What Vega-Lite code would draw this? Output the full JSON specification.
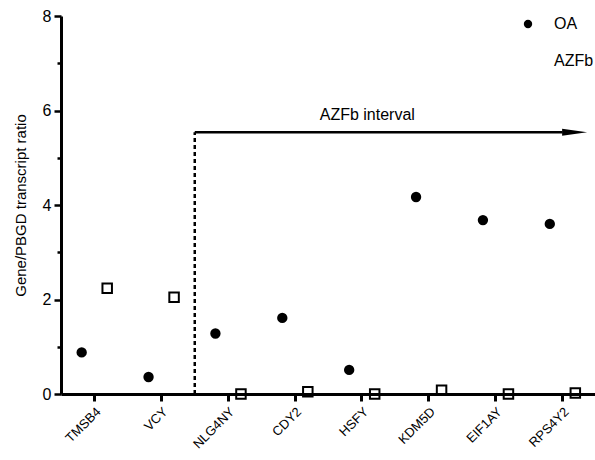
{
  "$schema": "https://vega.github.io/schema/vega-lite/v6.json",
  "width": 535,
  "height": 378,
  "autosize": "none",
  "padding": {"left": 61, "top": 16, "right": 0, "bottom": 66},
  "background": "white",
  "config": {
    "font": "Liberation Sans",
    "view": {"stroke": null}
  },
  "datasets": {
    "ratios": [
      {"gene": "TMSB4", "group": "OA", "value": 0.88},
      {"gene": "TMSB4", "group": "AZFb", "value": 2.24},
      {"gene": "VCY", "group": "OA", "value": 0.36},
      {"gene": "VCY", "group": "AZFb", "value": 2.05},
      {"gene": "NLG4NY", "group": "OA", "value": 1.28},
      {"gene": "NLG4NY", "group": "AZFb", "value": 0.0},
      {"gene": "CDY2", "group": "OA", "value": 1.61},
      {"gene": "CDY2", "group": "AZFb", "value": 0.05},
      {"gene": "HSFY", "group": "OA", "value": 0.51},
      {"gene": "HSFY", "group": "AZFb", "value": 0.0},
      {"gene": "KDM5D", "group": "OA", "value": 4.17},
      {"gene": "KDM5D", "group": "AZFb", "value": 0.08},
      {"gene": "EIF1AY", "group": "OA", "value": 3.68},
      {"gene": "EIF1AY", "group": "AZFb", "value": 0.0},
      {"gene": "RPS4Y2", "group": "OA", "value": 3.6},
      {"gene": "RPS4Y2", "group": "AZFb", "value": 0.02}
    ],
    "interval": [
      {"start": "NLG4NY", "end": "RPS4Y2", "mid": "HSFY", "label": "AZFb interval", "base": 0, "level": 5.54, "labelLevel": 5.91}
    ]
  },
  "layer": [
    {
      "data": {"name": "ratios"},
      "mark": {"type": "point", "stroke": "black", "strokeWidth": 2, "opacity": 1},
      "encoding": {
        "x": {
          "field": "gene", "type": "nominal",
          "sort": ["TMSB4", "VCY", "NLG4NY", "CDY2", "HSFY", "KDM5D", "EIF1AY", "RPS4Y2"],
          "scale": {"type": "band", "domain": ["TMSB4", "VCY", "NLG4NY", "CDY2", "HSFY", "KDM5D", "EIF1AY", "RPS4Y2"], "paddingInner": 0, "paddingOuter": 0},
          "axis": {"title": null, "zindex": 1, "domain": true, "ticks": true, "grid": false, "domainColor": "black", "tickColor": "black", "domainWidth": 3, "tickWidth": 3, "tickSize": 7, "labelAngle": -45, "labelFontSize": 13, "labelPadding": 4, "labelAlign": "right", "labelBaseline": "top", "labelColor": "#000000", "labelFont": "Liberation Sans"}
        },
        "xOffset": {
          "field": "group", "type": "nominal", "sort": ["OA", "AZFb"],
          "scale": {"type": "point", "padding": 0.81}
        },
        "y": {
          "field": "value", "type": "quantitative",
          "scale": {"domain": [0, 8], "nice": false, "zero": true},
          "axis": {
            "title": "Gene/PBGD transcript ratio",
            "zindex": 1, "domain": true, "ticks": true, "grid": false,
            "domainColor": "black", "domainWidth": 3, "tickColor": "black", "tickWidth": 2.5,
            "values": [0,0.25,0.5,0.75,1,1.25,1.5,1.75,2,2.25,2.5,2.75,3,3.25,3.5,3.75,4,4.25,4.5,4.75,5,5.25,5.5,5.75,6,6.25,6.5,6.75,7,7.25,7.5,7.75,8],
            "labelExpr": "datum.value % 2 === 0 ? datum.label : ''",
            "tickSize": {"condition": {"test": "datum.value % 2 === 0", "value": 7}, "value": 4},
            "labelFontSize": 16, "labelPadding": 3, "labelColor": "#000000", "labelFont": "Liberation Sans",
            "titleFontSize": 15, "titleFontWeight": "normal", "titlePadding": 14, "titleColor": "#000000", "titleFont": "Liberation Sans"
          }
        },
        "shape": {
          "field": "group", "type": "nominal", "sort": ["OA", "AZFb"],
          "scale": {"domain": ["OA", "AZFb"], "range": ["circle", "square"]},
          "legend": {"orient": "none", "legendX": 459, "legendY": 0, "title": null, "labelFontSize": 16, "labelOffset": 18, "rowPadding": 19, "padding": 0, "symbolStrokeWidth": 2, "symbolSize": 70, "symbolStrokeColor": "black", "labelColor": "#000000", "zindex": 1,
            "encoding": {"symbols": {"update": {"stroke": {"value": "black"}, "strokeWidth": {"value": 2}}}}}
        },
        "fill": {
          "field": "group", "type": "nominal", "sort": ["OA", "AZFb"],
          "scale": {"domain": ["OA", "AZFb"], "range": ["black", "white"]},
          "legend": {"orient": "none", "legendX": 459, "legendY": 0, "title": null, "labelFontSize": 16, "labelOffset": 18, "rowPadding": 19, "padding": 0, "symbolStrokeWidth": 2, "symbolSize": 70, "symbolStrokeColor": "black", "labelColor": "#000000", "zindex": 1,
            "encoding": {"symbols": {"update": {"stroke": {"value": "black"}, "strokeWidth": {"value": 2}}}}}
        },
        "size": {"condition": {"test": "datum.group === 'OA'", "value": 70}, "value": 90}
      }
    },
    {
      "data": {"name": "interval"},
      "mark": {"type": "rule", "strokeDash": [4, 3], "strokeWidth": 2.5, "color": "black"},
      "encoding": {
        "x": {"field": "start", "type": "nominal", "bandPosition": 0},
        "y": {"field": "base", "type": "quantitative"},
        "y2": {"field": "level"}
      }
    },
    {
      "data": {"name": "interval"},
      "mark": {"type": "rule", "strokeWidth": 2.5, "color": "black"},
      "encoding": {
        "x": {"field": "start", "type": "nominal", "bandPosition": 0},
        "x2": {"field": "end", "bandPosition": 0.5},
        "y": {"field": "level", "type": "quantitative"}
      }
    },
    {
      "data": {"name": "interval"},
      "mark": {"type": "point", "shape": "M-1,-0.28L1,0L-1,0.28Z", "filled": true, "color": "black", "size": 625, "opacity": 1},
      "encoding": {
        "x": {"field": "end", "type": "nominal", "bandPosition": 0.68},
        "y": {"field": "level", "type": "quantitative"}
      }
    },
    {
      "data": {"name": "interval"},
      "mark": {"type": "text", "fontSize": 16, "baseline": "middle", "align": "center", "color": "black", "font": "Liberation Sans"},
      "encoding": {
        "x": {"field": "mid", "type": "nominal", "bandPosition": 0.58},
        "y": {"field": "labelLevel", "type": "quantitative"},
        "text": {"field": "label"}
      }
    }
  ]
}
